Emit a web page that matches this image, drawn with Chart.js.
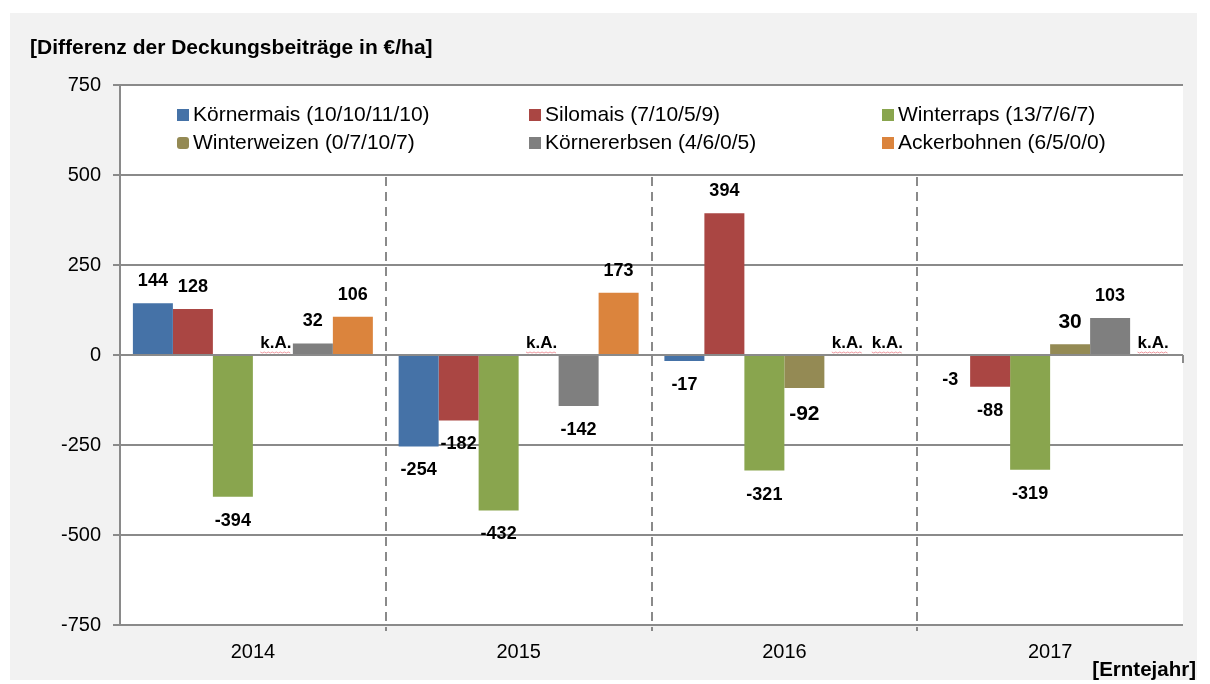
<!DOCTYPE html>
<html>
<head>
<meta charset="utf-8">
<script src="https://cdn.jsdelivr.net/npm/chart.js@4"></script>
<style>
  html, body { margin: 0; padding: 0; background: #ffffff; }
  canvas { display: block; }
</style>
</head>
<body>
<canvas id="chart" width="1210" height="684"></canvas>
<script>
// Harvest years (categories)
const years = ['2014', '2015', '2016', '2017'];

// Difference of gross margins in €/ha per crop; null = "k.A." (no data)
const koernermais   = [144, -254, -17, -3];
const silomais      = [128, -182, 394, -88];
const winterraps    = [-394, -432, -321, -319];
const winterweizen  = [null, null, -92, 30];
const koernererbsen = [32, -142, null, 103];
const ackerbohnen   = [106, 173, null, null];

// Series names with number of farms per year
const seriesNames = [
  'Körnermais (10/10/11/10)',
  'Silomais (7/10/5/9)',
  'Winterraps (13/7/6/7)',
  'Winterweizen (0/7/10/7)',
  'Körnererbsen (4/6/0/5)',
  'Ackerbohnen (6/5/0/0)'
];

// Value axis tick labels
const yTicks = [-750, -500, -250, 0, 250, 500, 750];

const seriesColors = ['#4572A7', '#AA4643', '#89A54E', '#948A54', '#7F7F7F', '#DB843D'];
const FONT = "'Liberation Sans', Arial, Helvetica, sans-serif";
const GRID = '#8a8a8a';

// labels drawn in a larger font: [series index, year index]
const largeLabels = [[3, 2], [3, 3]];

const allSeries = [koernermais, silomais, winterraps, winterweizen, koernererbsen, ackerbohnen];

const datasets = allSeries.map((values, i) => ({
  label: seriesNames[i],
  data: values,
  backgroundColor: seriesColors[i],
  borderWidth: 0
}));

// Frame, grey background and white plot area
const backgroundPlugin = {
  id: 'backgroundPlugin',
  beforeDraw(chart) {
    const ctx = chart.ctx;
    const a = chart.chartArea;
    ctx.save();
    ctx.fillStyle = '#ffffff';
    ctx.fillRect(0, 0, chart.width, chart.height);
    ctx.fillStyle = '#f2f2f2';
    ctx.fillRect(10, 13, 1187, 667);
    ctx.fillStyle = '#ffffff';
    ctx.fillRect(a.left, a.top, a.right - a.left, a.bottom - a.top);
    ctx.restore();
  },
  afterDraw(chart) {
    const ctx = chart.ctx;
    ctx.save();
    ctx.fillStyle = '#000000';
    ctx.textBaseline = 'middle';
    ctx.font = 'bold 21px ' + FONT;
    ctx.textAlign = 'left';
    ctx.fillText('[Differenz der Deckungsbeiträge in €/ha]', 30, 48);
    ctx.font = 'bold 20.5px ' + FONT;
    ctx.textAlign = 'right';
    ctx.fillText('[Erntejahr]', 1196, 670);
    ctx.restore();
  }
};

// Dashed separators between years and category tick marks on the zero line
const separatorPlugin = {
  id: 'separatorPlugin',
  beforeDatasetsDraw(chart) {
    const ctx = chart.ctx;
    const x = chart.scales.x;
    const y = chart.scales.y;
    const zeroY = y.getPixelForValue(0);
    const topY = y.getPixelForValue(500);
    ctx.save();
    ctx.strokeStyle = GRID;
    ctx.lineWidth = 2;
    for (let i = 1; i <= years.length; i++) {
      const px = i === years.length
        ? Math.round(x.right)
        : Math.round((x.getPixelForValue(i - 1) + x.getPixelForValue(i)) / 2);
      if (i < years.length) {
        ctx.setLineDash([9, 6]);
        ctx.beginPath();
        ctx.moveTo(px, topY + 2);
        ctx.lineTo(px, y.bottom + 6);
        ctx.stroke();
      }
      ctx.setLineDash([]);
      ctx.beginPath();
      ctx.moveTo(px, zeroY);
      ctx.lineTo(px, zeroY + 8);
      ctx.stroke();
    }
    ctx.restore();
  }
};

// Value labels above / below the bars, "k.A." where no data exists
const valueLabelPlugin = {
  id: 'valueLabelPlugin',
  afterDatasetsDraw(chart) {
    const ctx = chart.ctx;
    const zeroY = chart.scales.y.getPixelForValue(0);
    ctx.save();
    ctx.fillStyle = '#000000';
    ctx.textAlign = 'center';
    ctx.textBaseline = 'middle';
    chart.data.datasets.forEach((ds, di) => {
      const meta = chart.getDatasetMeta(di);
      ds.data.forEach((v, j) => {
        const el = meta.data[j];
        if (!el) return;
        const big = largeLabels.some(p => p[0] === di && p[1] === j);
        if (v === null) {
          ctx.font = 'bold 17px ' + FONT;
          const txt = 'k.A.';
          const tx = el.x + 3;
          const ty = zeroY - 12;
          ctx.fillStyle = '#000000';
          ctx.fillText(txt, tx, ty);
          // spell-check style squiggle under the note
          const w = ctx.measureText(txt).width;
          ctx.strokeStyle = 'rgba(235,120,130,0.75)';
          ctx.lineWidth = 1;
          ctx.beginPath();
          for (let k = 0; k <= w; k += 2) {
            const sx = tx - w / 2 + k;
            const sy = ty + 9 + ((k / 2) % 2 ? 1 : 0);
            if (k === 0) ctx.moveTo(sx, sy); else ctx.lineTo(sx, sy);
          }
          ctx.stroke();
          return;
        }
        ctx.font = 'bold ' + (big ? 21 : 18) + 'px ' + FONT;
        const ly = v >= 0 ? el.y - 22 : el.y + (big ? 26 : 24);
        ctx.fillText(String(v), el.x, ly);
      });
    });
    ctx.restore();
  }
};

// Two-row legend in three aligned columns
const legendPlugin = {
  id: 'legendPlugin',
  afterDraw(chart) {
    const ctx = chart.ctx;
    const colX = [177, 529, 882];
    const rowY = [115, 143];
    ctx.save();
    ctx.font = '21px ' + FONT;
    ctx.textBaseline = 'middle';
    ctx.textAlign = 'left';
    chart.data.datasets.forEach((ds, i) => {
      const cx = colX[i % 3];
      const cy = rowY[Math.floor(i / 3)];
      ctx.fillStyle = ds.backgroundColor;
      if (i === 3) {
        ctx.beginPath();
        ctx.roundRect(cx, cy - 6, 12, 12, 3);
        ctx.fill();
      } else {
        ctx.fillRect(cx, cy - 6, 12, 12);
      }
      ctx.fillStyle = '#000000';
      ctx.fillText(ds.label, cx + 16, cy);
    });
    ctx.restore();
  }
};

new Chart(document.getElementById('chart'), {
  type: 'bar',
  data: { labels: years, datasets },
  options: {
    responsive: false,
    animation: false,
    devicePixelRatio: 1,
    layout: { padding: { left: 0, right: 27, top: 85, bottom: 0 } },
    plugins: {
      legend: { display: false },
      tooltip: { enabled: false }
    },
    datasets: {
      bar: { categoryPercentage: 0.903, barPercentage: 1.0 }
    },
    scales: {
      x: {
        grid: { display: false, drawTicks: false },
        border: { display: false },
        ticks: {
          color: '#000000',
          font: { family: FONT, size: 20 },
          padding: 15,
          maxRotation: 0
        },
        afterFit(scale) { scale.height = 59; }
      },
      y: {
        min: -750,
        max: 750,
        afterBuildTicks(scale) { scale.ticks = yTicks.map(v => ({ value: v })); },
        grid: { color: GRID, lineWidth: 2, tickLength: 7, drawTicks: true },
        border: { display: true, color: GRID, width: 2 },
        ticks: {
          color: '#000000',
          font: { family: FONT, size: 20 },
          padding: 12
        },
        afterFit(scale) { scale.width = 120; }
      }
    }
  },
  plugins: [backgroundPlugin, separatorPlugin, valueLabelPlugin, legendPlugin]
});
</script>
</body>
</html>
